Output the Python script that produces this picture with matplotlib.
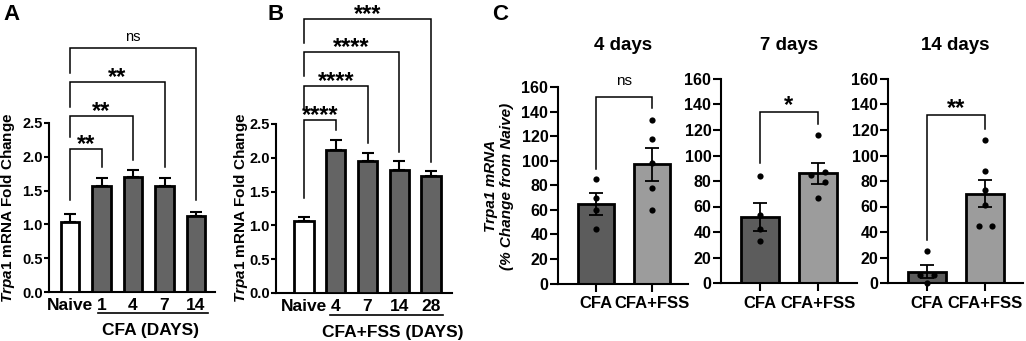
import matplotlib
matplotlib.use("Agg")
import matplotlib.pyplot as plt
import numpy as np

plt.rcParams['font.family'] = ['Liberation Sans', 'DejaVu Sans']
plt.rcParams['font.weight'] = 'bold'
plt.rcParams['mathtext.fontset'] = 'custom'
plt.rcParams['mathtext.it'] = 'Liberation Sans:italic:bold'
plt.rcParams['mathtext.rm'] = 'Liberation Sans:bold'

# ---------------- data ----------------
a_labels = ['Naive', '1', '4', '7', '14']
a_mean = [1.03, 1.57, 1.70, 1.57, 1.12]
a_sem = [0.13, 0.12, 0.10, 0.12, 0.07]
a_sig = ['**', '**', '**', 'ns']

b_labels = ['Naive', '4', '7', '14', '28']
b_mean = [1.07, 2.12, 1.96, 1.82, 1.73]
b_sem = [0.06, 0.15, 0.11, 0.14, 0.07]
b_sig = ['****', '****', '****', '***']

c_titles = ['4 days', '7 days', '14 days']
c_groups = ['CFA', 'CFA+FSS']
d4_mean = [65, 97]
d4_sem = [9, 13.5]
d4_cfa = [85, 70, 60, 44]
d4_fss = [133, 118, 98, 78, 60]
d7_mean = [52, 86]
d7_sem = [11, 8.5]
d7_cfa = [84, 53, 42, 33]
d7_fss = [116, 85, 87, 79, 67]
d14_mean = [9, 70]
d14_sem = [5, 10.5]
d14_cfa = [25, 6, 6, 0]
d14_fss = [112, 88, 73, 61, 45, 45]
c_sig = ['ns', '*', '**']

# ---------------- layout ----------------
W, H = 1026, 341
fig = plt.figure(figsize=(W / 100, H / 100), dpi=100)


def px_axes(x0, x1, ytop, ybot):
    return fig.add_axes([x0 / W, 1 - ybot / H, (x1 - x0) / W, (ybot - ytop) / H])


def fig_text(x, y, s, **kw):
    fig.text(x / W, 1 - y / H, s, **kw)


LW = 1.5
DARK = '#646464'
XT = 12.5


def style_ab(ax):
    for s in ['top', 'right']:
        ax.spines[s].set_visible(False)
    for s in ['left', 'bottom']:
        ax.spines[s].set_linewidth(LW)
    ax.set_ylim(0, 2.5)
    ax.set_yticks(np.arange(0, 2.51, 0.5))
    ax.set_yticklabels([f'{v:.1f}' for v in np.arange(0, 2.51, 0.5)], fontsize=10.5, fontweight='bold')
    ax.tick_params(axis='y', length=3.5, width=LW, pad=1)
    ax.tick_params(axis='x', length=0, pad=4)
    ax.patch.set_visible(False)


def bar_panel(ax, labels, mean, sem, xlim):
    x = np.arange(len(labels))
    colors = ['white'] + [DARK] * (len(labels) - 1)
    ax.errorbar(x, mean, yerr=[np.zeros(len(sem)), sem], fmt='none', ecolor='black',
                elinewidth=LW, capsize=4.5, capthick=LW, zorder=2)
    ax.bar(x, mean, width=0.6, color=colors, edgecolor='black', linewidth=2, zorder=3)
    ax.set_xlim(*xlim)
    ax.set_xticks(x)
    ax.set_xticklabels(labels, fontsize=XT, fontweight='bold')
    style_ab(ax)


def brackets(ax, pairs, tops, lefts, rights, sigs, star_size=17, ns_size=10.5, star_off=-1.5, ns_off=3):
    for (i, j), t, l, r, s in zip(pairs, tops, lefts, rights, sigs):
        ax.plot([i, i, j, j], [l, t, t, r], color='black', lw=1.1, clip_on=False,
                solid_joinstyle='miter', zorder=4)
        if s == 'ns':
            ax.annotate(s, xy=((i + j) / 2, t), xytext=(0, ns_off), textcoords='offset points',
                        ha='center', va='bottom', fontsize=ns_size, fontweight='normal',
                        annotation_clip=False)
        else:
            ax.annotate(s, xy=((i + j) / 2, t), xytext=(0, star_off), textcoords='offset points',
                        ha='center', va='baseline', fontsize=star_size, fontweight='bold',
                        annotation_clip=False)


# Panel A
axA = px_axes(49, 215, 123, 292)
bar_panel(axA, a_labels, a_mean, a_sem, ((49 - 70) / 31.5, (215 - 70) / 31.5))
brackets(axA, [(0, 1), (0, 2), (0, 3), (0, 4)],
         [2.12, 2.60, 3.11, 3.61], [1.36, 2.29, 2.74, 3.24], [1.85, 1.95, 1.85, 1.36], a_sig)
axA.plot([0.89, 4.38], [-0.31, -0.31], color='black', lw=1.2, clip_on=False)
axA.text(2.54, -0.57, 'CFA (DAYS)', ha='center', va='center', fontsize=XT, fontweight='bold')

# Panel B
axB = px_axes(276, 452, 124, 293)
bar_panel(axB, b_labels, b_mean, b_sem, ((276 - 304) / 31.75, (452 - 304) / 31.75))
brackets(axB, [(0, 1), (0, 2), (0, 3), (0, 4)],
         [2.56, 3.06, 3.57, 4.05], [1.40, 2.72, 3.21, 3.70], [2.41, 2.22, 2.09, 1.94], b_sig)
axB.plot([0.82, 4.38], [-0.325, -0.325], color='black', lw=1.2, clip_on=False)
axB.text(2.8, -0.59, 'CFA+FSS (DAYS)', ha='center', va='center', fontsize=XT, fontweight='bold')

ylab = r'$\mathit{Trpa1}$ mRNA Fold Change'
fig_text(8, 208, ylab, rotation=90, ha='center', va='center', fontsize=11, fontweight='bold')
fig_text(241, 208, ylab, rotation=90, ha='center', va='center', fontsize=11, fontweight='bold')

# Panel C
c_means = [d4_mean, d7_mean, d14_mean]
c_sems = [d4_sem, d7_sem, d14_sem]
c_points = [[d4_cfa, d4_fss], [d7_cfa, d7_fss], [d14_cfa, d14_fss]]
c_jitter = [[[0, 0, 0, 0], [0, 0, 0, 0, 0]],
            [[0, 0, 0, 0], [0, -0.12, 0.12, 0.12, 0]],
            [[0, -0.12, 0.12, 0], [0, 0, 0, 0, -0.1, 0.12]]]
c_boxes = [(558, 688, 87, 283.5, 596, 56), (721, 857, 79, 283, 760, 58), (888, 1023, 79, 283, 927, 58)]
c_brk = [(152, 93, 143), (134, 94, 125), (132, 34, 121)]
c_colors = ['#5c5c5c', '#9c9c9c']

for k in range(3):
    x0, x1, yt, yb, xc, sp = c_boxes[k]
    ax = px_axes(x0, x1, yt, yb)
    ax.patch.set_visible(False)
    x = np.arange(2)
    ax.bar(x, c_means[k], width=0.66, color=c_colors, edgecolor='black', linewidth=2, zorder=2)
    for g in range(2):
        pts = c_points[k][g]
        ax.scatter(g + np.array(c_jitter[k][g]), pts, s=20, color='black', zorder=4, clip_on=False,
                   linewidths=0)
    ax.errorbar(x, c_means[k], yerr=c_sems[k], fmt='none', ecolor='black', elinewidth=1.3,
                capsize=5, capthick=1.3, zorder=3)
    ax.set_xlim((x0 - xc) / sp, (x1 - xc) / sp)
    ax.set_ylim(0, 160)
    ax.set_yticks(range(0, 161, 20))
    ax.set_yticklabels([str(v) for v in range(0, 161, 20)], fontsize=11.5, fontweight='bold')
    ax.set_xticks(x)
    ax.set_xticklabels(c_groups, fontsize=12, fontweight='bold')
    for s in ['top', 'right']:
        ax.spines[s].set_visible(False)
    for s in ['left', 'bottom']:
        ax.spines[s].set_linewidth(LW)
    ax.tick_params(axis='both', length=5.5, width=LW, pad=1.5)
    ax.tick_params(axis='x', pad=3.5)
    t, l, r = c_brk[k]
    brackets(ax, [(0, 1)], [t], [l], [r], [c_sig[k]], star_size=17, ns_size=11,
             star_off=0, ns_off=6)
    fig_text((x0 + x1) / 2, 46, c_titles[k], ha='center', va='center', fontsize=13.5,
             fontweight='bold')

fig_text(499, 186, 'Trpa1 mRNA\n(% Change from Naive)', rotation=90, ha='center', va='center',
         fontsize=11, fontweight='bold', style='italic', linespacing=1.15)

# panel letters
fig_text(11, 15, 'A', ha='center', va='center', fontsize=16, fontweight='bold')
fig_text(276, 14, 'B', ha='center', va='center', fontsize=16, fontweight='bold')
fig_text(500, 15, 'C', ha='center', va='center', fontsize=16, fontweight='bold')

fig.savefig('out.png', dpi=100)
